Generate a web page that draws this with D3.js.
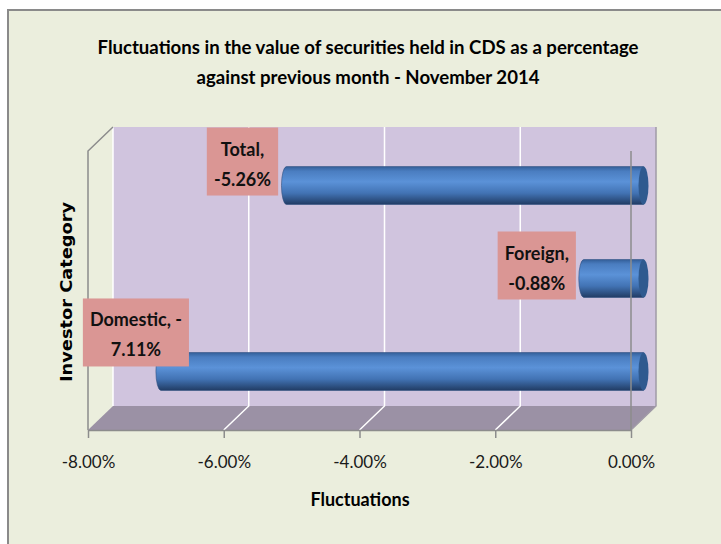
<!DOCTYPE html>
<html>
<head>
<meta charset="utf-8">
<script src="https://cdn.jsdelivr.net/npm/d3@7"></script>
<style>
  body { margin: 0; background: #fff; }
  svg text { font-family: Lato, sans-serif; }
</style>
</head>
<body>
<svg id="chart" width="721" height="544"></svg>
<script>
// data
var categories = ['Total', 'Foreign', 'Domestic'];
var values = [-0.0526, -0.0088, -0.0711];
var tickValues = [-0.08, -0.06, -0.04, -0.02, 0];
var titleLines = ['Fluctuations in the value of securities held in CDS as a percentage',
	'against previous month - November 2014'];

// manual label placement (box centre relative to bar's left end / centre)
var labelOffsets = {Total: [-39, -24], Foreign: [-42, -13], Domestic: [-20, -39]};

var svg = d3.select('#chart'),
	depth = {dx: 25, dy: -24},
	front = {left: 88, right: 631, top: 151, bottom: 430};

// excel writes a plain hyphen for the minus sign
var pct = function(v) { return d3.format('.2%')(v).replace('\u2212', '-'); };

// chart area
svg.append('rect').attr('x', 8).attr('y', 10).attr('width', 713).attr('height', 534)
	.attr('fill', '#ebeedd');
svg.append('path').attr('d', 'M8,544V10H721').attr('fill', 'none')
	.attr('stroke', '#8a8a8a').attr('stroke-width', 2);

var x = d3.scaleLinear().domain([-0.08, 0]).range([front.left, front.right]);
var y = d3.scaleBand().domain(categories).range([front.top, front.bottom])
	.paddingInner(0.593).paddingOuter(0.297);

var bx = front.left + depth.dx, bt = front.top + depth.dy, bb = front.bottom + depth.dy;

// back wall
svg.append('rect').attr('x', bx).attr('y', bt)
	.attr('width', x(0) - x(-0.08)).attr('height', bb - bt)
	.attr('fill', '#d0c4de');

// floor
svg.append('path')
	.attr('d', 'M' + x(-0.08) + ',' + front.bottom + 'L' + x(0) + ',' + front.bottom +
		'L' + (x(0) + depth.dx) + ',' + bb + 'L' + bx + ',' + bb + 'Z')
	.attr('fill', '#9b91a5');

// gridlines on wall and floor
var inner = tickValues.slice(1, -1);
svg.selectAll('.grid').data(inner).enter().append('path')
	.attr('class', 'grid')
	.attr('d', function(d) {
		return 'M' + (x(d) + depth.dx) + ',' + bt + 'V' + bb + 'L' + x(d) + ',' + front.bottom;
	})
	.attr('fill', 'none').attr('stroke', '#fff').attr('stroke-width', 1.5);

// wall edges
svg.append('line').attr('x1', bx).attr('x2', bx).attr('y1', bt).attr('y2', bb)
	.attr('stroke', '#fff').attr('stroke-width', 1.5);
svg.append('path')
	.attr('d', 'M' + x(-0.08) + ',' + front.bottom + 'V' + front.top + 'L' + bx + ',' + bt)
	.attr('fill', 'none').attr('stroke', '#8c8c8c').attr('stroke-width', 1.5);
svg.append('path')
	.attr('d', 'M' + (x(0) + depth.dx) + ',' + bt + 'V' + bb + 'L' + x(0) + ',' + front.bottom)
	.attr('fill', 'none').attr('stroke', '#a09aa6').attr('stroke-width', 1.5);

// cylinder gradient
var defs = svg.append('defs');
var grad = defs.append('linearGradient').attr('id', 'cyl')
	.attr('x1', 0).attr('y1', 0).attr('x2', 0).attr('y2', 1);
grad.append('stop').attr('offset', '0%').attr('stop-color', '#34609a');
grad.append('stop').attr('offset', '12%').attr('stop-color', '#4a7dc0');
grad.append('stop').attr('offset', '40%').attr('stop-color', '#5b92d8');
grad.append('stop').attr('offset', '70%').attr('stop-color', '#4273b4');
grad.append('stop').attr('offset', '100%').attr('stop-color', '#213c64');

var rx = 5, mx = depth.dx / 2, my = depth.dy / 2;
var bars = svg.selectAll('.bar')
	.data(categories.map(function(c, i) { return {cat: c, value: values[i]}; }))
	.enter().append('g').attr('class', 'bar');

bars.append('path')
	.attr('d', function(d) {
		var x1 = x(d.value) + mx, x2 = x(0) + mx,
			t = y(d.cat) + my, h = y.bandwidth(), r = h / 2;
		return 'M' + x2 + ',' + t + 'H' + x1 +
			'A' + rx + ',' + r + ' 0 0 0 ' + x1 + ',' + (t + h) +
			'H' + x2 + 'Z';
	})
	.attr('fill', 'url(#cyl)')
	.attr('stroke', '#2d4f80').attr('stroke-width', 0.6);

bars.append('ellipse')
	.attr('cx', x(0) + mx)
	.attr('cy', function(d) { return y(d.cat) + my + y.bandwidth() / 2; })
	.attr('rx', rx).attr('ry', y.bandwidth() / 2)
	.attr('fill', '#2f5a8f');

// value axis line at zero on the front plane
svg.append('line').attr('x1', x(0)).attr('x2', x(0))
	.attr('y1', front.top).attr('y2', front.bottom)
	.attr('stroke', '#8c8c8c').attr('stroke-width', 1.5);

// x axis
var axis = svg.append('g')
	.attr('transform', 'translate(0,' + front.bottom + ')')
	.call(d3.axisBottom(x).tickValues(tickValues).tickFormat(pct)
		.tickSize(8).tickSizeOuter(0).tickPadding(18));
axis.select('.domain').attr('stroke', '#8c8c8c').attr('stroke-width', 1.5);
axis.selectAll('.tick line').attr('stroke', '#8c8c8c').attr('stroke-width', 1.5);
axis.selectAll('.tick text').attr('font-size', 17).attr('fill', '#1a1a1a')
	.style('font-family', 'Lato, sans-serif');

// data labels
var labels = bars.append('g').attr('transform', function(d) {
	var off = labelOffsets[d.cat];
	return 'translate(' + (x(d.value) + mx - rx + off[0]) + ',' +
		(y(d.cat) + my + y.bandwidth() / 2 + off[1]) + ')';
});
labels.each(function(d) {
	var g = d3.select(this);
	var p = pct(d.value);
	var lines = d.cat === 'Domestic' ? [d.cat + ', -', p.slice(1)] : [d.cat + ',', p];
	var box = g.append('rect').attr('fill', '#da9694');
	var t = g.append('text').attr('text-anchor', 'middle').attr('font-size', 18)
		.attr('font-weight', 'bold').attr('fill', '#111');
	lines.forEach(function(l, i) {
		t.append('tspan').attr('x', 0).attr('y', i === 0 ? -6 : 24).text(l);
	});
	var w = t.node().getBBox().width + 14;
	box.attr('x', -w / 2).attr('y', -34).attr('width', w).attr('height', 68);
});

// titles
svg.selectAll('.title').data(titleLines).enter().append('text')
	.attr('class', 'title')
	.attr('x', 368).attr('y', function(d, i) { return 54 + i * 30; })
	.attr('text-anchor', 'middle').attr('font-size', 19).attr('font-weight', 'bold')
	.attr('textLength', function(d, i) { return i === 0 ? 541 : 343; })
	.attr('lengthAdjust', 'spacingAndGlyphs')
	.text(function(d) { return d; });

svg.append('text').attr('x', 360).attr('y', 506)
	.attr('text-anchor', 'middle').attr('font-size', 18).attr('font-weight', 'bold')
	.text('Fluctuations');

svg.append('text')
	.attr('transform', 'translate(72,292) rotate(-90)')
	.attr('text-anchor', 'middle').attr('font-size', 16).attr('font-weight', 'bold')
	.attr('textLength', 180).attr('lengthAdjust', 'spacingAndGlyphs')
	.style('font-family', '"DejaVu Sans", sans-serif')
	.text('Investor Category');
</script>
</body>
</html>
